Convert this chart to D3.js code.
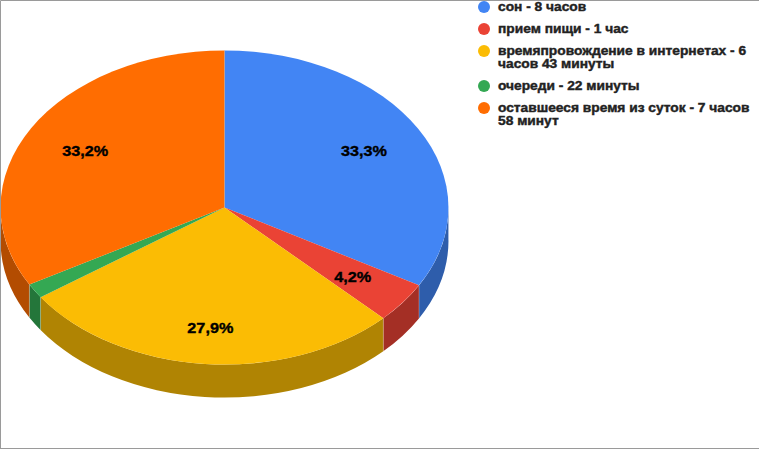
<!DOCTYPE html>
<html><head><meta charset="utf-8">
<script src="https://cdn.jsdelivr.net/npm/d3@7/dist/d3.min.js"></script>
<style>html,body{margin:0;padding:0;background:#fff}svg{display:block}</style></head>
<body><svg id="c" width="759" height="449"></svg>
<script>
const legendLines=[["сон - 8 часов"],["прием пищи - 1 час"],["времяпровождение в интернетах - 6","часов 43 минуты"],["очереди - 22 минуты"],["оставшееся время из суток - 7 часов","58 минут"]];
const values=[33.3,4.2,27.9,1.5,33.2];
const labels=["33,3%","4,2%","27,9%","","33,2%"];
const colors=["#4285f4","#ea4335","#fbbc04","#34a853","#ff6d01"];
(function(){
const W=759,H=449,cx=224.5,cy=207.5,rx=224,ry=157,depth=33;
const svg=d3.select("#c");
svg.append("rect").attr("width",W).attr("height",H).attr("fill","#fff");
const pie=d3.pie().sort(null).value(d=>d)(values);
const unit=d3.arc().innerRadius(0).outerRadius(1);
const px=a=>cx+rx*Math.sin(a), py=(a,o=0)=>cy-ry*Math.cos(a)+o;
const wall=svg.append("g");
pie.forEach((s,i)=>{
  const a0=Math.max(s.startAngle,Math.PI/2),a1=Math.min(s.endAngle,1.5*Math.PI);
  if(a1<=a0)return;
  const c=d3.rgb(colors[i]);
  const f=.7;
  const fill=d3.rgb(c.r*f,c.g*f,c.b*f);
  wall.append("path").attr("fill",fill)
    .attr("d",`M${px(a0)},${py(a0)}A${rx},${ry} 0 0 1 ${px(a1)},${py(a1)}L${px(a1)},${py(a1,depth)}A${rx},${ry} 0 0 0 ${px(a0)},${py(a0,depth)}Z`);
  wall.append("path").attr("fill","none").attr("stroke","#fff").attr("stroke-opacity",.3).attr("stroke-width",.6)
    .attr("d",`M${px(a0)},${py(a0)}V${py(a0,depth)}M${px(a1)},${py(a1)}V${py(a1,depth)}`);
});
const face=svg.append("g").attr("transform",`translate(${cx},${cy}) scale(${rx},${ry})`);
face.selectAll("path").data(pie).join("path").attr("d",unit).attr("fill",(d,i)=>colors[i]);
svg.append("line").attr("x1",cx).attr("x2",cx).attr("y1",cy-ry).attr("y2",cy).attr("stroke","#aaa").attr("stroke-opacity",.6).attr("stroke-width",.6);
const lab=svg.append("g").attr("font-family","Liberation Sans").attr("font-weight","bold").attr("font-size",14.5).attr("fill","#000").attr("stroke","#000").attr("stroke-width",.35);
pie.forEach((s,i)=>{
  if(!labels[i])return;
  const m=(s.startAngle+s.endAngle)/2,k=.72;
  const x=cx+k*rx*Math.sin(m),y=cy-k*ry*Math.cos(m)+8*Math.pow(Math.min(0,Math.cos(m)),4);
  lab.append("text").attr("text-anchor","middle").attr("dy","0.35em")
    .attr("transform",`translate(${x},${y}) scale(1.12,1)`).text(labels[i]);
});
const lh=13,gap=9;
let y=7;
const leg=svg.append("g").attr("font-family","Liberation Sans").attr("font-weight","bold").attr("font-size",12).attr("fill","#222").attr("stroke","#222").attr("stroke-width",.4);
legendLines.forEach((ls,i)=>{
  leg.append("circle").attr("cx",484).attr("cy",y).attr("r",6).attr("fill",colors[i]).attr("stroke","none");
  ls.forEach((t,j)=>{
    leg.append("text").attr("dy","0.35em").attr("transform",`translate(498,${y+j*lh}) scale(1.147,1)`).text(t);
  });
  y+=(ls.length-1)*lh+lh+gap;
});
svg.append("path").attr("d",`M.5,${H-.5}V.5H${W}M0,${H-.5}H${W}`).attr("fill","none").attr("stroke","#9a9a9a");
})();
</script></body></html>
